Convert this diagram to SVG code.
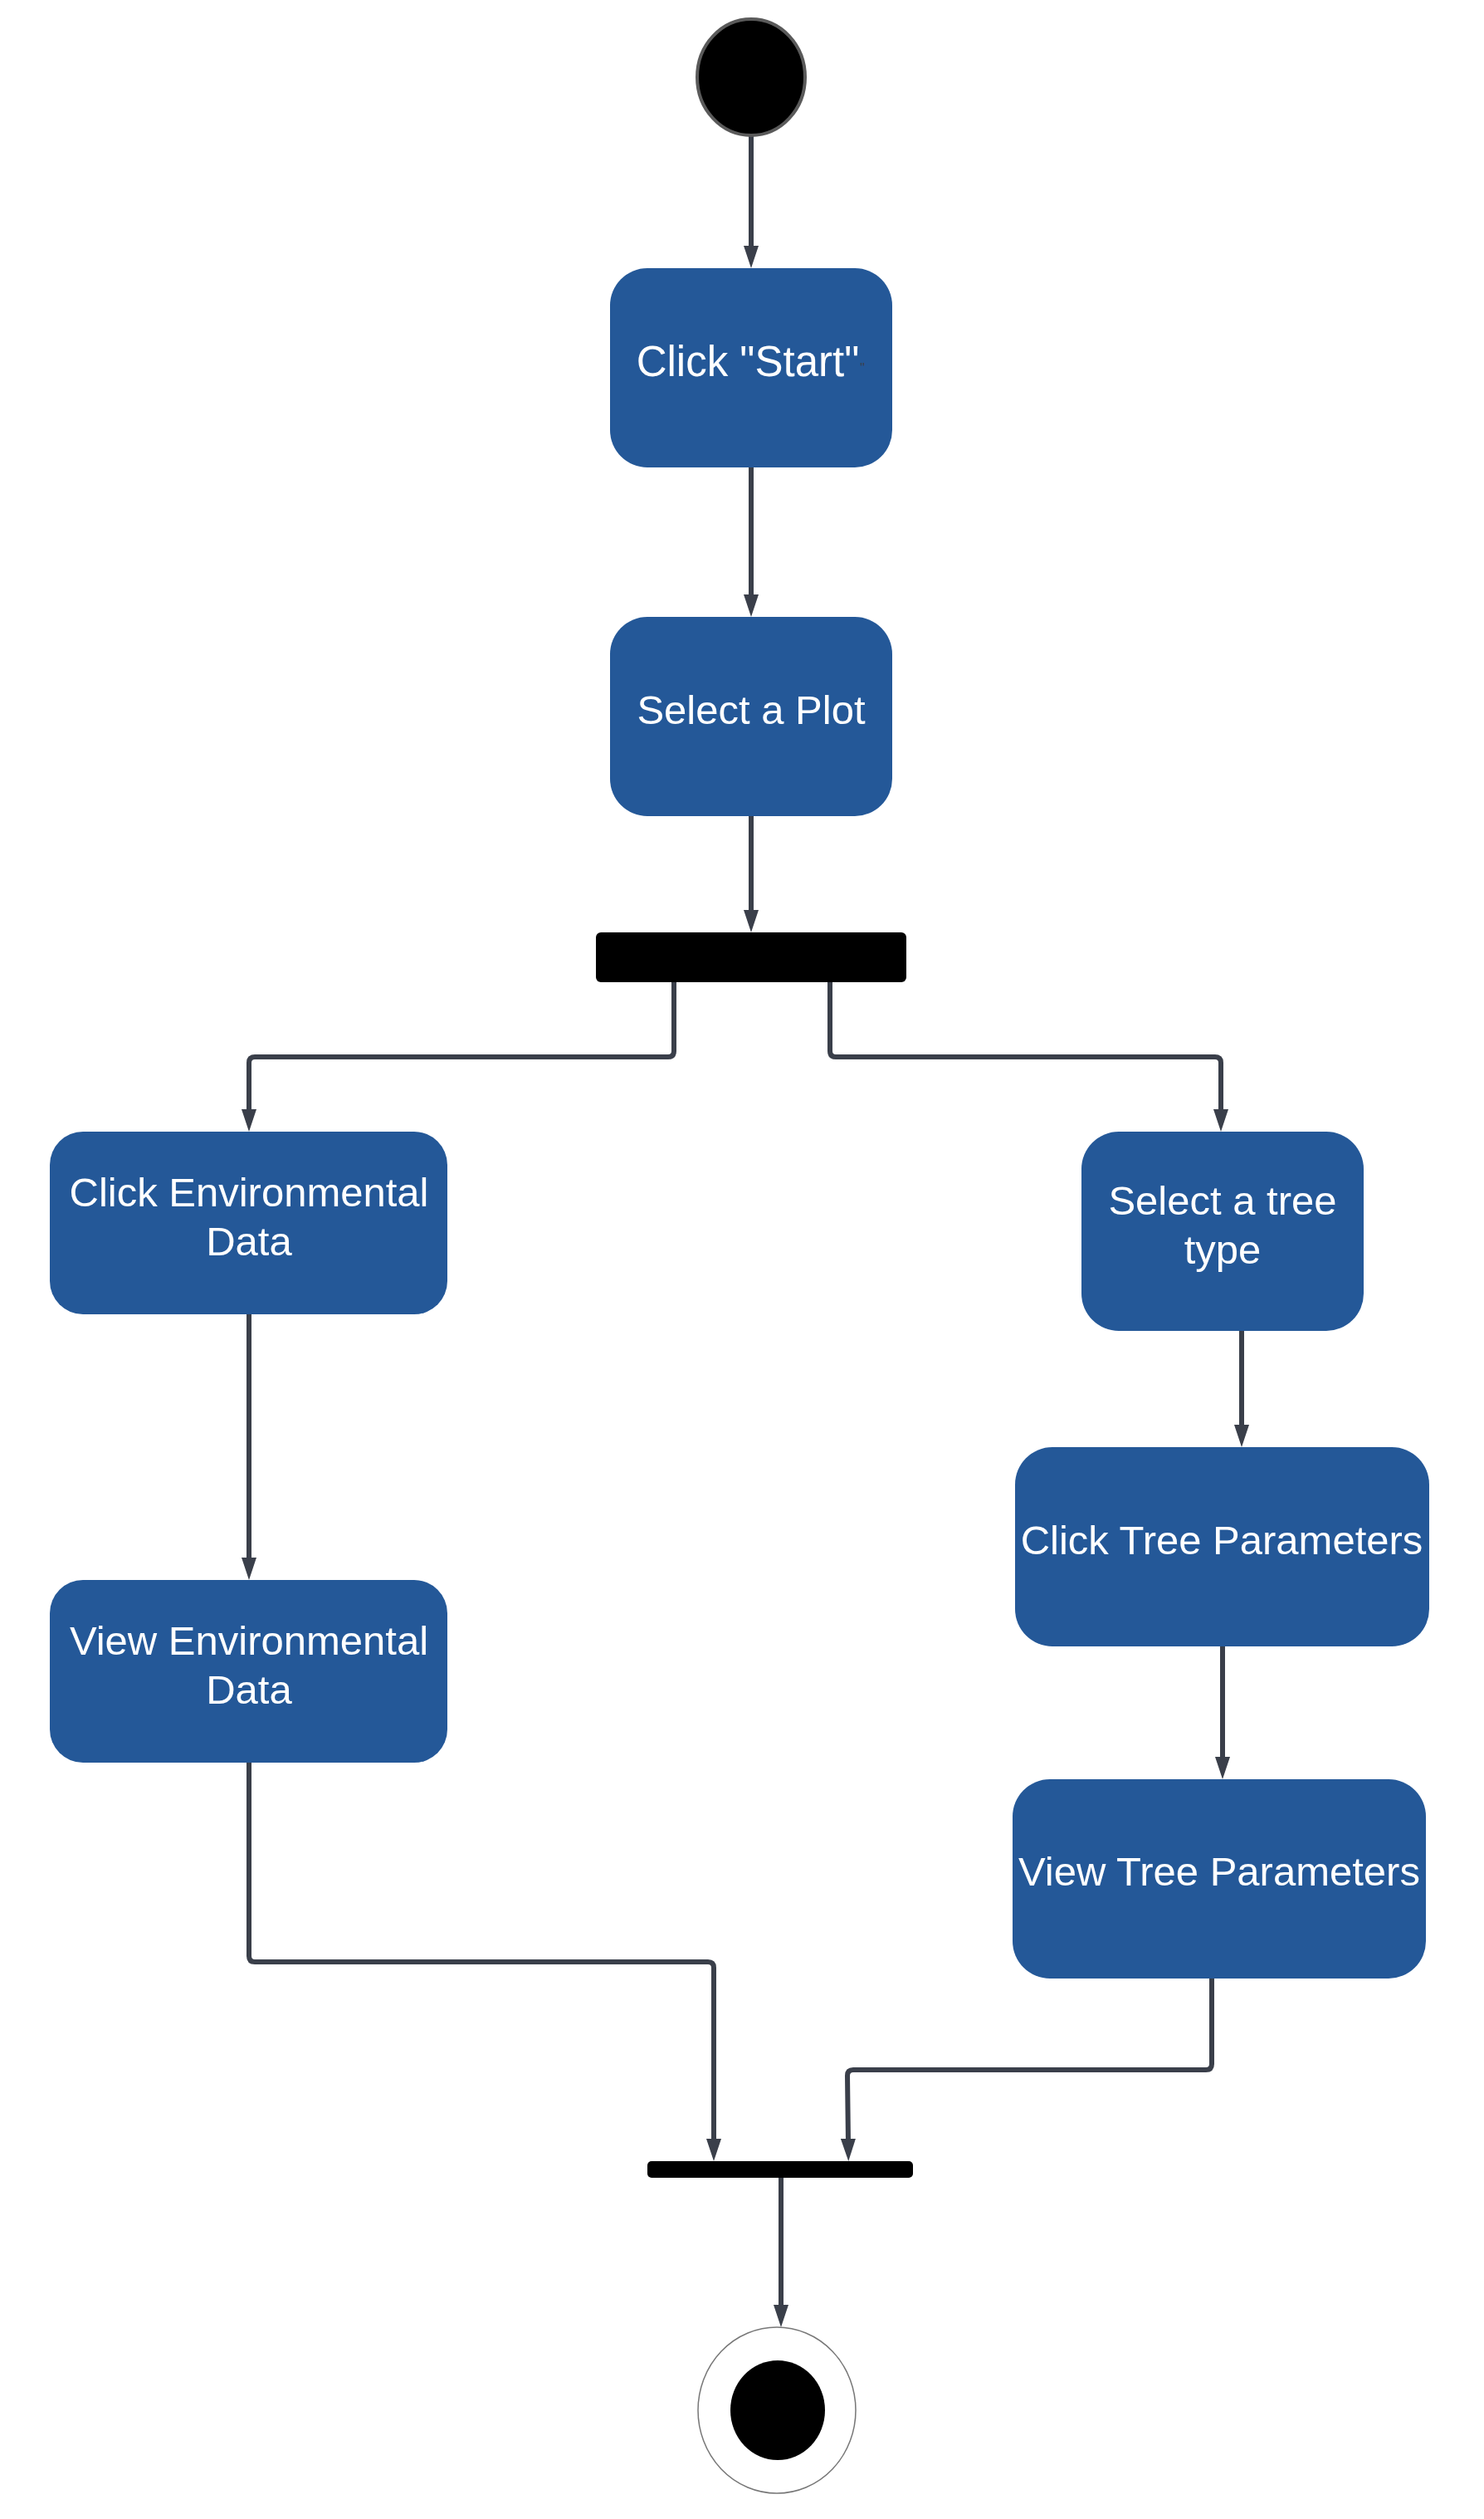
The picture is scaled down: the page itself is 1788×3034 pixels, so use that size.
<svg xmlns="http://www.w3.org/2000/svg" width="1788" height="3034" viewBox="0 0 1788 3034">
  <style>
    .act { fill: #245898; }
    .lbl { font-family: "Liberation Sans", Arial, sans-serif; font-size: 49px; fill: #ffffff; text-anchor: middle; }
    .bar { fill: #000000; }
    .conn { fill: none; stroke: #3a3f4a; stroke-width: 6; stroke-linejoin: round; }
  </style>
  <defs>
    <marker id="arrow" markerUnits="userSpaceOnUse" markerWidth="27" markerHeight="18" refX="4" refY="9" orient="auto">
      <path d="M0,0 L27,9 L0,18 z" fill="#3a3f4a"/>
    </marker>
  </defs>
  <rect width="1788" height="3034" fill="#ffffff"/>

  <g id="connectors">
    <path class="conn" marker-end="url(#arrow)" d="M905,163 L905,300"/>
    <path class="conn" marker-end="url(#arrow)" d="M905,563 L905,720"/>
    <path class="conn" marker-end="url(#arrow)" d="M905,983 L905,1100"/>
    <path class="conn" marker-end="url(#arrow)" d="M812,1183 L812,1266 Q812,1273 805,1273 L307,1273 Q300,1273 300,1280 L300,1340"/>
    <path class="conn" marker-end="url(#arrow)" d="M1000,1183 L1000,1266 Q1000,1273 1007,1273 L1464,1273 Q1471,1273 1471,1280 L1471,1340"/>
    <path class="conn" marker-end="url(#arrow)" d="M300,1583 L300,1880"/>
    <path class="conn" marker-end="url(#arrow)" d="M1496,1603 L1496,1720"/>
    <path class="conn" marker-end="url(#arrow)" d="M1473,1983 L1473,2120"/>
    <path class="conn" marker-end="url(#arrow)" d="M300,2123 L300,2356 Q300,2363 307,2363 L853,2363 Q860,2363 860,2370 L860,2580"/>
    <path class="conn" marker-end="url(#arrow)" d="M1460,2383 L1460,2486 Q1460,2493 1453,2493 L1028,2493 Q1021,2493 1021,2500 L1022,2580"/>
    <path class="conn" marker-end="url(#arrow)" d="M941,2623 L941,2780"/>
  </g>

  <g id="start">
    <ellipse cx="905" cy="93" rx="65" ry="70" fill="#000000" stroke="#5a5a5a" stroke-width="4"/>
  </g>

  <g id="click-start">
    <rect class="act" x="735" y="323" width="340" height="240" rx="45" ry="45"/>
    <text class="lbl" x="901" y="453" style="font-size:51px">Click "Start"</text>
    <text x="1039" y="449" font-family="Liberation Sans, Arial, sans-serif" font-size="16" fill="#3a3f4a" text-anchor="middle">"</text>
  </g>

  <g id="select-plot">
    <rect class="act" x="735" y="743" width="340" height="240" rx="45" ry="45"/>
    <text class="lbl" x="905" y="872">Select a Plot</text>
  </g>

  <g id="fork">
    <rect class="bar" x="718" y="1123" width="374" height="60" rx="6" ry="6"/>
  </g>

  <g id="click-env">
    <rect class="act" x="60" y="1363" width="479" height="220" rx="40" ry="40"/>
    <text class="lbl" x="300" y="1453">Click Environmental</text>
    <text class="lbl" x="300" y="1512">Data</text>
  </g>

  <g id="select-tree">
    <rect class="act" x="1303" y="1363" width="340" height="240" rx="45" ry="45"/>
    <text class="lbl" x="1473" y="1463">Select a tree</text>
    <text class="lbl" x="1473" y="1522">type</text>
  </g>

  <g id="view-env">
    <rect class="act" x="60" y="1903" width="479" height="220" rx="40" ry="40"/>
    <text class="lbl" x="300" y="1993">View Environmental</text>
    <text class="lbl" x="300" y="2052">Data</text>
  </g>

  <g id="click-tree-params">
    <rect class="act" x="1223" y="1743" width="499" height="240" rx="45" ry="45"/>
    <text class="lbl" x="1472" y="1872">Click Tree Parameters</text>
  </g>

  <g id="view-tree-params">
    <rect class="act" x="1220" y="2143" width="498" height="240" rx="45" ry="45"/>
    <text class="lbl" x="1469" y="2271">View Tree Parameters</text>
  </g>

  <g id="join">
    <rect class="bar" x="780" y="2603" width="320" height="20" rx="5" ry="5"/>
  </g>

  <g id="end">
    <ellipse cx="936" cy="2903" rx="95" ry="100" fill="#ffffff" stroke="#777777" stroke-width="1.5"/>
    <ellipse cx="937" cy="2903" rx="57" ry="60" fill="#000000"/>
  </g>
</svg>
